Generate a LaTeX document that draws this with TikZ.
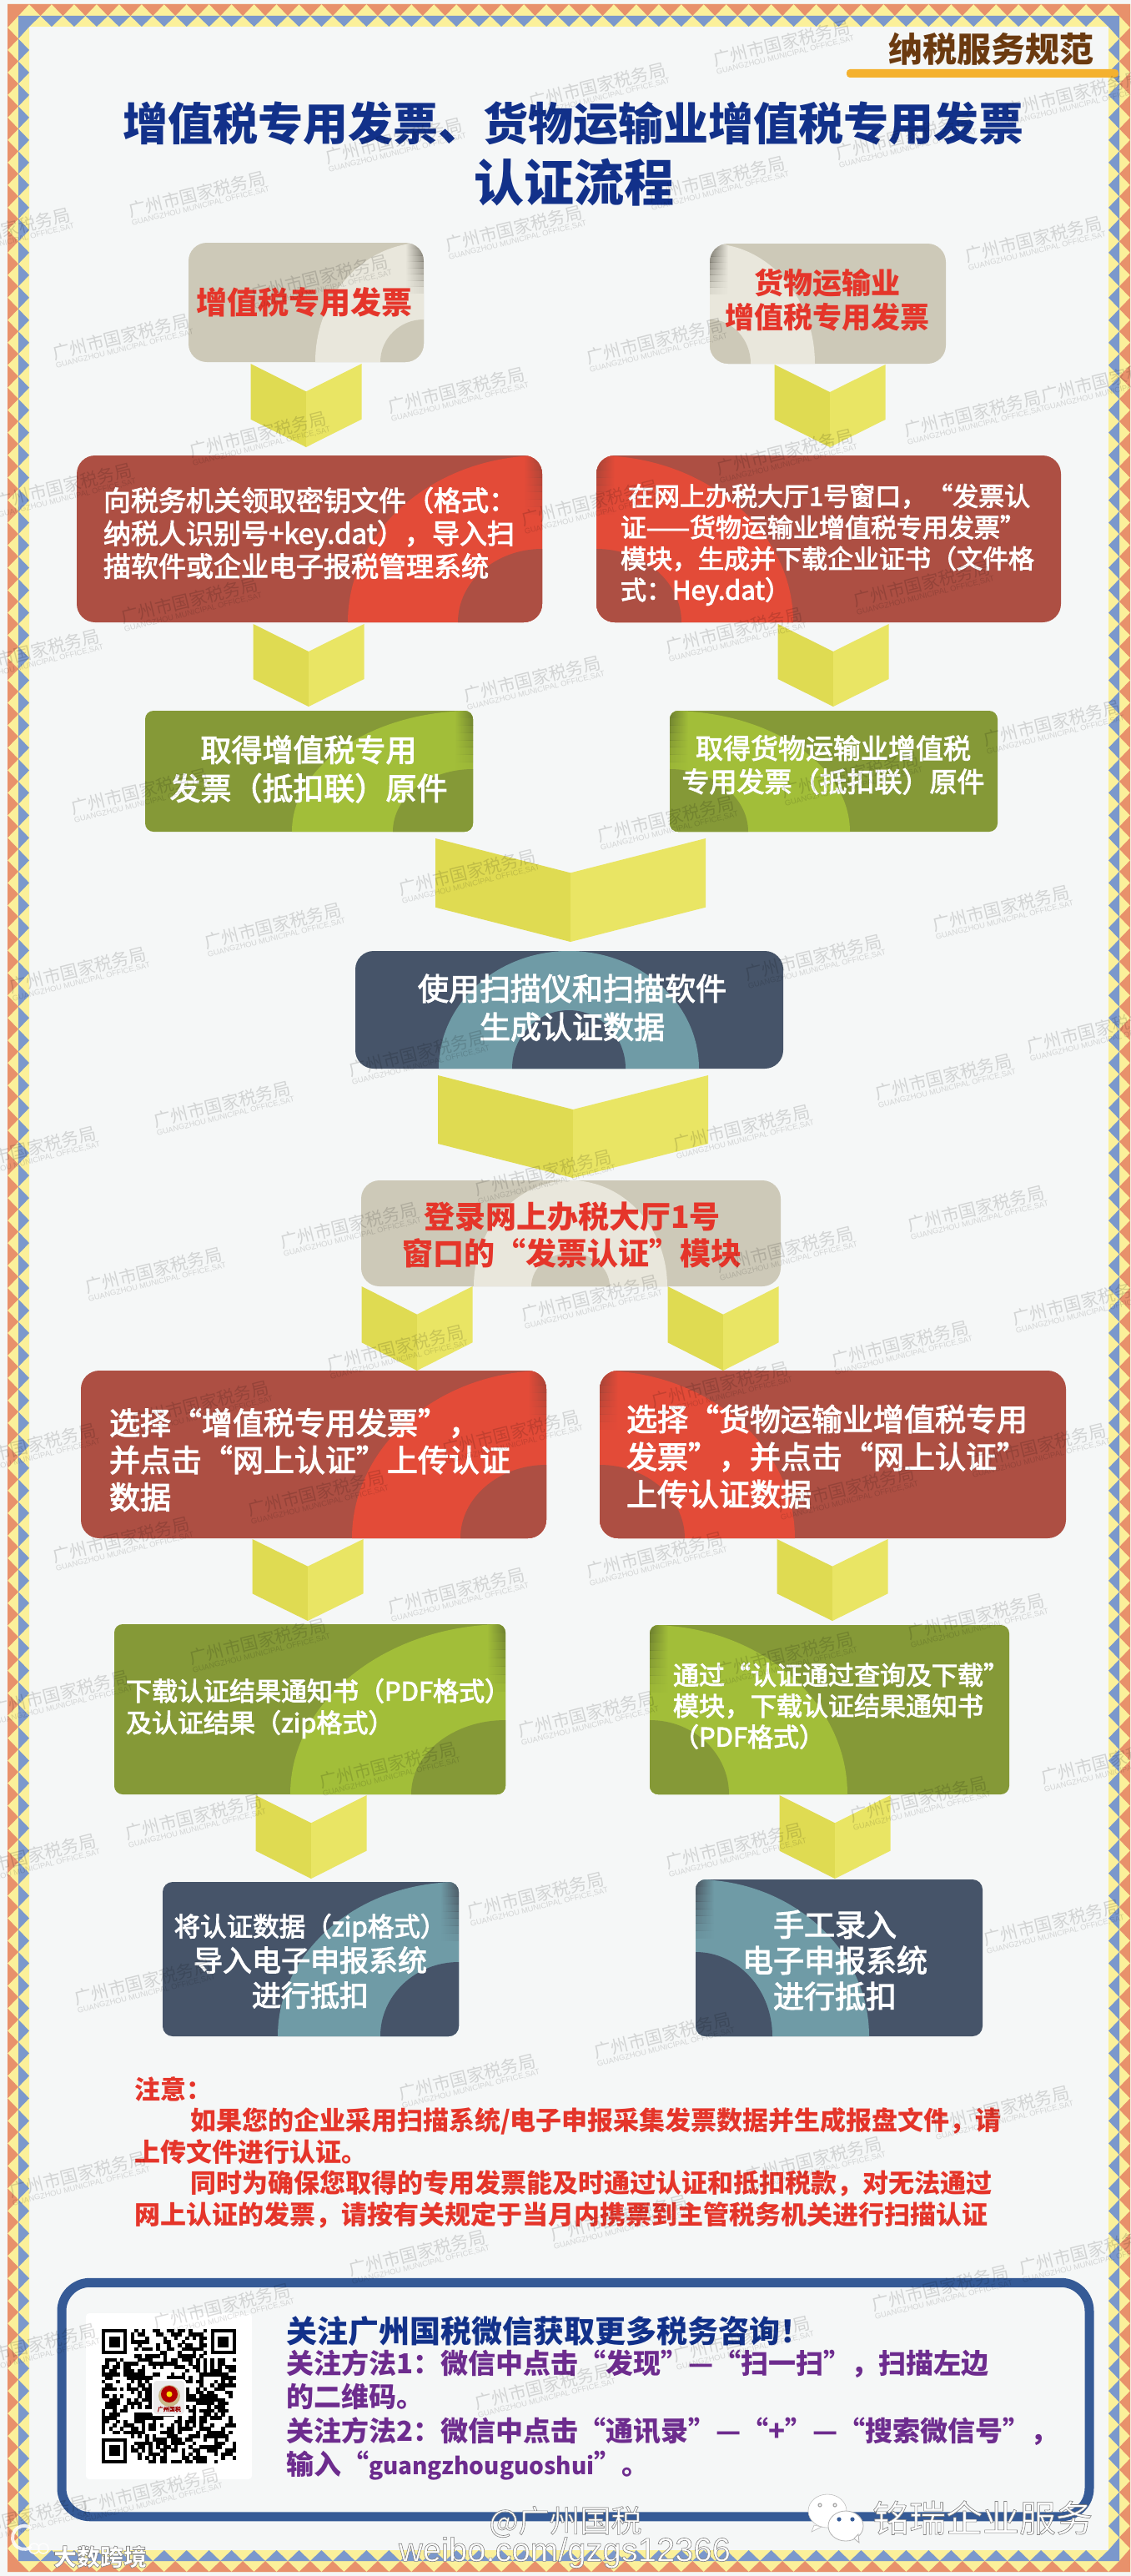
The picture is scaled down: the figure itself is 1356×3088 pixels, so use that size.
\documentclass[tikz,border=0pt]{standalone}
\usepackage{fontspec}
\usetikzlibrary{calc}
\setmainfont{Noto Sans CJK SC}
\newfontfamily\medf[FakeBold=3]{Noto Sans CJK SC}
\newfontfamily\latinwm{Liberation Sans}
\definecolor{pagebg}{HTML}{F5F7F7}
\definecolor{borderO}{HTML}{E8916B}
\definecolor{borderY}{HTML}{FBF09A}
\definecolor{borderB}{HTML}{7B98CC}
\definecolor{chevL}{HTML}{DFDB52}
\definecolor{chevR}{HTML}{E9E564}
\definecolor{tanbase}{HTML}{CDC9B8}
\definecolor{tanarc}{HTML}{E9E7DC}
\definecolor{tandark}{HTML}{77746A}
\definecolor{redbase}{HTML}{AD4F43}
\definecolor{redarc}{HTML}{E34B38}
\definecolor{reddark}{HTML}{A04438}
\definecolor{grnbase}{HTML}{859937}
\definecolor{grnarc}{HTML}{A2BE39}
\definecolor{grndark}{HTML}{6E8030}
\definecolor{navbase}{HTML}{465469}
\definecolor{navarc}{HTML}{6F9BA6}
\definecolor{navdark}{HTML}{4A5560}
\definecolor{titleblue}{HTML}{12318A}
\definecolor{noticered}{HTML}{E5352A}
\definecolor{purpletxt}{HTML}{6D2C8E}
\definecolor{framebl}{HTML}{355A96}
\definecolor{tagbrown}{HTML}{6B3A10}
\definecolor{tagbar}{HTML}{F4B12E}
\definecolor{wreath}{HTML}{C9B98A}
\tikzset{
  txt/.style n args={2}{font=\medf\fontsize{#1}{#2}\selectfont,inner sep=0pt,outer sep=0pt},
  boxnode/.style={rectangle,inner sep=0pt,outer sep=0pt},
  wm/.style={rotate=14,opacity=.14,text=black,inner sep=0pt,align=left},
  whitetx/.style={text=white,align=center},
  whitel/.style={text=white,align=left,anchor=west},
  redtx/.style={text=noticered,align=center},
}
\newcommand\flowbox[7]{%
  \def\XA{#2}\def\YA{#3}\def\XB{#4}\def\YB{#5}\def\RR{#6}%
  \colorlet{curbase}{#7base}\colorlet{curarc}{#7arc}\colorlet{curdark}{#7dark}%
  \pgfmathsetmacro\CX{(#2+#4)/2}\pgfmathsetmacro\CY{(#3+#5)/2}%
  \pgfmathsetmacro\WW{#4-#2}\pgfmathsetmacro\HH{#5-#3}%
  \node[boxnode,fill=curbase,rounded corners=#6pt,minimum width=\WW pt,minimum height=\HH pt] (#1) at (\CX,\CY) {};%
}
\newcommand\archring[5]{%
  \begin{scope}
    \clip[rounded corners=\RR pt] (\XA,\YA) rectangle (\XB,\YB);
    \fill[curarc] (#1,\YB) ellipse [x radius=#2pt,y radius=\HH pt];
    \fill[curbase] (#1,\YB) ellipse [x radius=#3pt,y radius=#4pt];
    \begin{scope}
      \clip (#1,\YB) ellipse [x radius=#2pt,y radius=\HH pt];
      #5
    \end{scope}
  \end{scope}%
}
\newcommand\foldR[1]{\foreach \k in {0,...,7}{\shade[left color=curarc,right color=curdark,opacity={1-\k/8}] (\XB-22,{\YA+\k*#1/8}) rectangle (\XB,{\YA+(\k+1)*#1/8});}}
\newcommand\foldL[1]{\foreach \k in {0,...,7}{\shade[right color=curarc,left color=curdark,opacity={1-\k/8}] (\XA,{\YA+\k*#1/8}) rectangle (\XA+22,{\YA+(\k+1)*#1/8});}}
\newcommand\foldC[2]{\foreach \k in {0,...,7}{\shade[left color=curarc,middle color=curdark,right color=curarc,opacity={1-\k/8}] (#1-12,{\YA+\k*#2/8}) rectangle (#1+12,{\YA+(\k+1)*#2/8});}}
\newcommand\chev[6]{%
  \fill[chevL] let \p1=(#1.south),\p2=(#2.north),\n1={\y1-#5pt},\n2={\y2+#6pt},\n3={(\n2-\n1)/3} in
    ({#3pt-#4pt},\n1) -- (#3pt,\n1+\n3) -- (#3pt,\n2) -- ({#3pt-#4pt},\n2-\n3) -- cycle;
  \fill[chevR] let \p1=(#1.south),\p2=(#2.north),\n1={\y1-#5pt},\n2={\y2+#6pt},\n3={(\n2-\n1)/3} in
    ({#3pt+#4pt},\n1) -- (#3pt,\n1+\n3) -- (#3pt,\n2) -- ({#3pt+#4pt},\n2-\n3) -- cycle;
}
\newcommand\outl[1]{\special{pdf:code 2 Tr 0.6 w 0.5 0.5 0.5 RG}#1\special{pdf:code 0 Tr}}
\newcommand\wmark[2]{\node[wm] at (#1,#2) {\fontsize{21}{23}\selectfont 广州市国家税务局\\[-2pt]{\latinwm\fontsize{9.3}{11}\selectfont GUANGZHOU MUNICIPAL OFFICE,SAT}};}
\begin{document}
\begin{tikzpicture}[x=1pt,y=-1pt]
\useasboundingbox (0,0) rectangle (1356,3088);
\fill[pagebg] (0,0) rectangle (1356,3088);
% ---------- border ----------
\fill[borderY,even odd rule] (9,5) rectangle (1355,3083) (35,32) rectangle (1329,3057);
\pgfmathsetmacro\pw{(1329-35)/48}
\pgfmathsetmacro\ph{(3055-33)/112}
\foreach \i in {0,...,47}{
  \pgfmathsetmacro\xa{35+\i*\pw}
  \fill[borderO] (\xa,5) -- (\xa+\pw,5) -- (\xa+\pw/2,19) -- cycle;
  \fill[borderO] (\xa,3083) -- (\xa+\pw,3083) -- (\xa+\pw/2,3070) -- cycle;
}
\foreach \i in {0,...,46}{
  \pgfmathsetmacro\xa{48.5+\i*\pw}
  \fill[borderB] (\xa,19) -- (\xa+\pw,19) -- (\xa+\pw/2,32) -- cycle;
  \fill[borderB] (\xa,3070) -- (\xa+\pw,3070) -- (\xa+\pw/2,3057) -- cycle;
}
\foreach \i in {0,...,111}{
  \pgfmathsetmacro\ya{33+\i*\ph}
  \fill[borderO] (9,\ya) -- (9,\ya+\ph) -- (22,\ya+\ph/2) -- cycle;
  \fill[borderO] (1355,\ya) -- (1355,\ya+\ph) -- (1342,\ya+\ph/2) -- cycle;
}
\foreach \i in {0,...,110}{
  \pgfmathsetmacro\ya{46.5+\i*\ph}
  \fill[borderB] (22,\ya) -- (22,\ya+\ph) -- (35,\ya+\ph/2) -- cycle;
  \fill[borderB] (1342,\ya) -- (1342,\ya+\ph) -- (1329,\ya+\ph/2) -- cycle;
}
\fill[borderO] (9,5) -- (35,5) -- (22,19) -- (9,33) -- cycle;
\fill[borderO] (1355,5) -- (1329,5) -- (1342,19) -- (1355,33) -- cycle;
\fill[borderO] (9,3083) -- (35,3083) -- (22,3070) -- (9,3055) -- cycle;
\fill[borderO] (1355,3083) -- (1329,3083) -- (1342,3070) -- (1355,3055) -- cycle;
\fill[borderB] (22,19) -- (48.5,19) -- (35,32) -- (22,46.5) -- cycle;
\fill[borderB] (1342,19) -- (1315.5,19) -- (1329,32) -- (1342,46.5) -- cycle;
\fill[borderB] (22,3070) -- (48.5,3070) -- (35,3057) -- (22,3042) -- cycle;
\fill[borderB] (1342,3070) -- (1315.5,3070) -- (1329,3057) -- (1342,3042) -- cycle;
% ---------- tag and title ----------
\node[txt={41}{46},text=tagbrown,font=\fontsize{41}{46}\selectfont\bfseries] (tag) at (1188,59) {纳税服务规范};
\fill[tagbar,rounded corners=4pt] (1015,83) rectangle (1341,93);
\node[txt={54}{60},text=titleblue,font=\fontsize{54}{60}\selectfont\bfseries] (title1) at (687,148) {增值税专用发票、货物运输业增值税专用发票};
\node[txt={60}{66},text=titleblue,font=\fontsize{60}{66}\selectfont\bfseries] (title2) at (688,219) {认证流程};
% ---------- boxes ----------
\flowbox{t1}{226}{291}{508}{434}{22}{tan}\archring{508}{130}{52}{51}{\foldR{60}}
\flowbox{t2}{851}{292}{1134}{436}{22}{tan}\archring{851}{126}{49}{53}{\foldL{60}}
\flowbox{r1}{92}{546}{650}{746}{22}{red}\archring{650}{233}{101}{88}{\foldR{70}}
\flowbox{r2}{715}{546}{1272}{746}{22}{red}\archring{715}{236}{102}{88}{\foldL{70}}
\flowbox{g1}{174}{852}{567}{997}{10}{grn}\archring{567}{217}{96}{75}{\foldR{70}}
\flowbox{g2}{803}{852}{1196}{997}{10}{grn}\archring{803}{216}{94}{75}{\foldL{70}}
\flowbox{n1}{426}{1140}{939}{1281}{22}{nav}\archring{682}{156}{68}{70}{\foldC{682}{34}}
\flowbox{t3}{433}{1415}{936}{1542}{22}{tan}\archring{684}{116}{47}{40}{\foldC{684}{75}}
\flowbox{r3}{97}{1643}{655}{1844}{22}{red}\archring{655}{233}{103}{88}{\foldR{70}}
\flowbox{r4}{719}{1643}{1278}{1844}{22}{red}\archring{719}{234}{102}{88}{\foldL{70}}
\flowbox{g3}{137}{1947}{606}{2151}{10}{grn}\archring{606}{258}{113}{89}{\foldR{80}}
\flowbox{g4}{779}{1948}{1210}{2151}{10}{grn}\archring{779}{237}{95}{89}{\foldL{80}}
\flowbox{n2}{195}{2256}{550}{2441}{12}{nav}\archring{550}{217}{94}{89}{\foldR{70}}
\flowbox{n3}{834}{2253}{1178}{2441}{12}{nav}\archring{834}{208}{92}{101}{\foldL{70}}
% ---------- chevrons ----------
\chev{t1}{r1}{367}{66.5}{2}{10}
\chev{t2}{r2}{995}{66.5}{1}{10}
\chev{r1}{g1}{370}{66.5}{2}{5}
\chev{r2}{g2}{999}{66.5}{2}{5}
\chev{g1}{n1}{684}{162}{8}{11}
\chev{n1}{t3}{687}{162}{8}{3}
\chev{t3}{r3}{500}{66.5}{0}{0}
\chev{t3}{r4}{867}{66.5}{0}{0}
\chev{r3}{g3}{369}{66.5}{1}{4}
\chev{r4}{g4}{998}{66.5}{1}{5}
\chev{g3}{n2}{373}{66.5}{1}{4}
\chev{g4}{n3}{1001}{66.5}{1}{1}
% ---------- box text ----------
\node[txt={37}{41},redtx,font=\fontsize{37}{41}\selectfont\bfseries] (tt1) at (365,362) {增值税专用发票};
\node[txt={35}{41},redtx,font=\fontsize{35}{41}\selectfont\bfseries] (tt2) at (992,360) {货物运输业\\增值税专用发票};
\node[txt={33}{39.5},whitel] (tr1) at (124,639) {向税务机关领取密钥文件（格式：\\纳税人识别号+key.dat），导入扫\\描软件或企业电子报税管理系统};
\node[txt={31}{37.5},whitel] (tr2) at (744,653) {\hspace*{9pt}在网上办税大厅1号窗口，“发票认\\证——货物运输业增值税专用发票”\\模块，生成并下载企业证书（文件格\\式：Hey.dat）};
\node[txt={37}{46},whitetx] (tg1) at (370,922) {取得增值税专用\\发票（抵扣联）原件};
\node[txt={33}{40},whitetx] (tg2) at (999,917) {取得货物运输业增值税\\专用发票（抵扣联）原件};
\node[txt={37}{46},whitetx] (tn1) at (686,1208) {使用扫描仪和扫描软件\\生成认证数据};
\node[txt={37}{44},redtx,font=\fontsize{37}{44}\selectfont\bfseries] (tt3) at (686,1480) {登录网上办税大厅1号\\窗口的“发票认证”模块};
\node[txt={37}{44.5},whitel] (tr3) at (131,1750) {选择“增值税专用发票”，\\并点击“网上认证”上传认证\\数据};
\node[txt={37}{45},whitel] (tr4) at (751,1746) {选择“货物运输业增值税专用\\发票”，并点击“网上认证”\\上传认证数据};
\node[txt={31}{38},whitel] (tg3) at (151,2048) {下载认证结果通知书（PDF格式）\\及认证结果（zip格式）};
\node[txt={31}{37},whitel] (tg4) at (807,2045) {通过“认证通过查询及下载”\\模块，下载认证结果通知书\\（PDF格式）};
\node[txt={35}{42},whitetx] (tn2) at (372,2351) {{\fontsize{31.5}{42}\selectfont 将认证数据（zip格式）}\\导入电子申报系统\\进行抵扣};
\node[txt={37}{43},whitetx] (tn3) at (1001,2350) {手工录入\\电子申报系统\\进行抵扣};
% ---------- notice ----------
\node[txt={31}{37.5},text=noticered,align=left,anchor=west,font=\fontsize{31}{37.5}\selectfont\bfseries] (notice) at (161,2580) {注意：\\\hspace*{67pt}如果您的企业采用扫描系统/电子申报采集发票数据并生成报盘文件，请\\上传文件进行认证。\\\hspace*{67pt}同时为确保您取得的专用发票能及时通过认证和抵扣税款，对无法通过\\网上认证的发票，请按有关规定于当月内携票到主管税务机关进行扫描认证};
% ---------- bottom frame ----------
\node[boxnode,draw=framebl,line width=11pt,rounded corners=34pt,minimum width=1232pt,minimum height=280.5pt] (frame) at (690,2876.5) {};
\fill[white,rounded corners=4pt] (103,2773) rectangle (302,2972);
% QR code
\pgfmathsetseed{7351}
\def\qm{4.35}
\begin{scope}[shift={(122,2792)}]
  \foreach \i in {0,...,36}{\foreach \j in {0,...,36}{
    \pgfmathrandominteger{\rr}{0}{99}
    \ifnum\rr<52
      \fill[black] (\i*\qm-.1,\j*\qm-.1) rectangle (\i*\qm+\qm+.1,\j*\qm+\qm+.1);
    \fi
  }}
  \foreach \a/\b in {0/0,30/0,0/30}{
    \fill[white] (\a*\qm-\qm,\b*\qm-\qm) rectangle (\a*\qm+8*\qm,\b*\qm+8*\qm);
    \fill[black] (\a*\qm,\b*\qm) rectangle (\a*\qm+7*\qm,\b*\qm+7*\qm);
    \fill[white] (\a*\qm+\qm,\b*\qm+\qm) rectangle (\a*\qm+6*\qm,\b*\qm+6*\qm);
    \fill[black] (\a*\qm+2*\qm,\b*\qm+2*\qm) rectangle (\a*\qm+5*\qm,\b*\qm+5*\qm);
  }
\end{scope}
\fill[white,rounded corners=4pt] (182,2852) rectangle (223,2896);
\fill[black!8!white,rounded corners=4pt] (184,2854) rectangle (221,2894);
\fill[wreath] (203,2872) circle (13);
\fill[red!70!black] (203,2870) circle (10);
\fill[yellow!80!orange] (203,2870) circle (3.5);
\node[txt={7}{8},text=red!60!black] (logo) at (203,2888) {广州国税};
% ---------- follow text ----------
\node[txt={37}{40},text=titleblue,anchor=west,font=\fontsize{37}{40}\selectfont\bfseries] (follow) at (343,2794) {关注广州国税微信获取更多税务咨询！};
\node[txt={33}{40.5},text=purpletxt,align=left,anchor=west,font=\fontsize{33}{40.5}\selectfont\bfseries] (method) at (343,2895) {关注方法1：微信中点击“发现”—“扫一扫”，扫描左边\\的二维码。\\关注方法2：微信中点击“通讯录”—“+”—“搜索微信号”，\\输入“{\fontsize{28}{40.5}\selectfont guangzhouguoshui}”。};
% ---------- background watermarks ----------
\foreach \wx/\wy in {939/56,718/107,238/237,474/173,1086/168,861/219,1289/117,618/278,1241/291,4/281,385/337,147/408,787/413,1332/459,549/472,1168/500,311/525,943/546,78/587,709/607,1107/704,229/724,882/760,39/786,640/818,1263/871,169/953,800/986,1021/933,562/1050,329/1114,1202/1093,977/1152,95/1167,1315/1239,502/1267,268/1328,1133/1295,891/1356,35/1382,653/1410,1172/1453,420/1473,943/1502,186/1527,709/1560,1298/1565,476/1620,1081/1615,242/1687,865/1664,614/1722,1246/1738,35/1738,381/1794,1016/1789,147/1850,787/1868,549/1911,1172/1942,311/1972,943/1988,74/2034,705/2059,1332/2115,467/2120,234/2182,1103/2161,882/2217,35/2230,644/2276,1263/2309,173/2380,796/2444,562/2494,1202/2532,977/2593,95/2611,744/2663,502/2705,1306/2703,1129/2747,268/2769,891/2808,35/2817,653/2865,182/2990,25/3023}{
  \wmark{\wx}{\wy}
}
% ---------- repost marks ----------
\fill[white,draw=black!25,line width=.6pt] (992,3010) ellipse [x radius=23pt,y radius=20pt];
\fill[white,draw=black!25,line width=.6pt] (976,3027) -- (973,3035) -- (985,3029) -- cycle;
\fill[black!35] (983,3003) circle (2.6) (1001,3003) circle (2.6);
\fill[white] (983,3003) circle (1.3) (1001,3003) circle (1.3);
\fill[white,draw=black!30,line width=.8pt] (1014,3028) ellipse [x radius=21pt,y radius=18pt];
\fill[white,draw=black!30,line width=.8pt] (1024,3043) -- (1030,3048) -- (1029,3038) -- cycle;
\fill[framebl] (1006,3020) circle (2.6) (1022,3020) circle (2.6);
\node[text=white,inner sep=0pt,font=\fontsize{44}{48}\selectfont] (brand) at (1178,3018) {\outl{铭瑞企业服务}};
\node[text=white,inner sep=0pt,font=\fontsize{37}{40}\selectfont] (wbname) at (678,3023) {\outl{@广州国税}};
\node[text=white,inner sep=0pt,font=\fontsize{40}{44}\selectfont] (wburl) at (677,3060) {\latinwm\outl{weibo.com/gzgs12366}};
\draw[white,line width=4pt,line cap=round,opacity=.85] (36,3054) arc (60:300:14);
\draw[white,line width=1.5pt,opacity=.85] (41,3055) circle (6) (52,3055) circle (6);
\node[text=white,inner sep=0pt,font=\fontsize{28}{30}\selectfont\bfseries] (djkj) at (120,3065) {\outl{大数跨境}};
\end{tikzpicture}
\end{document}
